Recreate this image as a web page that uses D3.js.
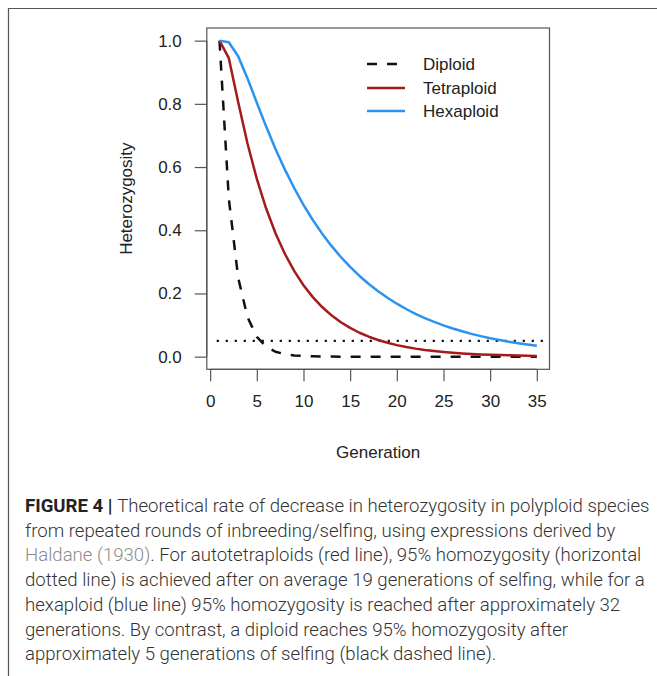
<!DOCTYPE html>
<html>
<head>
<meta charset="utf-8">
<script src="https://cdn.jsdelivr.net/npm/d3@7"></script>
<style>
html,body{margin:0;padding:0;background:#fff;}
svg{display:block;}
</style>
</head>
<body>
<svg id="chart" width="657" height="676"></svg>
<script>
// ---- data ----
const generations = [1,2,3,4,5,6,7,8,9,10,11,12,13,14,15,16,17,18,19,20,21,22,23,24,25,26,27,28,29,30,31,32,33,34,35];
const diploid = [1,0.5,0.25,0.125,0.0625,0.0313,0.0156,0.0078,0.0039,0.002,0.001,0.0005,0.0002,0.0001,0.0001,0,0,0,0,0,0,0,0,0,0,0,0,0,0,0,0,0,0,0,0];
const tetraploid = [1,0.9444,0.8056,0.6744,0.5625,0.4688,0.3907,0.3256,0.2714,0.2261,0.1884,0.157,0.1308,0.109,0.0909,0.0757,0.0631,0.0526,0.0438,0.0365,0.0304,0.0254,0.0211,0.0176,0.0147,0.0122,0.0102,0.0085,0.0071,0.0059,0.0049,0.0041,0.0034,0.0028,0.0024];
const hexaploid = [1,0.995,0.9507,0.8805,0.8035,0.728,0.6573,0.5925,0.5337,0.4805,0.4325,0.3893,0.3504,0.3153,0.2838,0.2554,0.2299,0.2069,0.1862,0.1676,0.1508,0.1357,0.1222,0.11,0.099,0.0891,0.0802,0.0721,0.0649,0.0584,0.0526,0.0473,0.0426,0.0383,0.0345];
const threshold = 0.05;
const thresholdExtent = [0.7, 35.7];
const xTicks = [0,5,10,15,20,25,30,35];
const yTicks = [0,0.2,0.4,0.6,0.8,1.0];
const seriesNames = ["Diploid","Tetraploid","Hexaploid"];
const captionLines = [
  [{t:"FIGURE 4 | ",b:true},{t:"Theoretical rate of decrease in heterozygosity in polyploid species"}],
  [{t:"from repeated rounds of inbreeding/selfing, using expressions derived by"}],
  [{t:"Haldane (1930)",g:true},{t:". For autotetraploids (red line), 95% homozygosity (horizontal"}],
  [{t:"dotted line) is achieved after on average 19 generations of selfing, while for a"}],
  [{t:"hexaploid (blue line) 95% homozygosity is reached after approximately 32"}],
  [{t:"generations. By contrast, a diploid reaches 95% homozygosity after"}],
  [{t:"approximately 5 generations of selfing (black dashed line)."}]
];

// ---- drawing ----
const svg = d3.select("#chart");
const font = "'Liberation Sans', Arial, Helvetica, sans-serif";
const box = {l:206.8, r:549.5, t:28, b:369.3};

const x = d3.scaleLinear().domain([-0.36, 36.36]).range([box.l, box.r]);
const y = d3.scaleLinear().domain([-0.04, 1.04]).range([box.b, box.t]);

// outer frame (top & left only)
svg.append("path").attr("d","M8.5,676 L8.5,8.5 L657,8.5")
  .attr("fill","none").attr("stroke","#555").attr("stroke-width",1.2);

// plot box
svg.append("rect").attr("x",box.l).attr("y",box.t)
  .attr("width",box.r-box.l).attr("height",box.b-box.t)
  .attr("fill","none").attr("stroke","#555").attr("stroke-width",1.2);

// axes
const xAxis = d3.axisBottom(x).tickValues(xTicks).tickFormat(d3.format("d")).tickSize(12).tickPadding(14);
const gx = svg.append("g").attr("transform",`translate(0,${box.b})`).call(xAxis);
const yAxis = d3.axisLeft(y).tickValues(yTicks).tickFormat(d3.format(".1f")).tickSize(12).tickPadding(13);
const gy = svg.append("g").attr("transform",`translate(${box.l},0)`).call(yAxis);
[gx,gy].forEach(g=>{
  g.select(".domain").attr("stroke","#555").attr("stroke-width",1.2);
  g.selectAll(".tick line").attr("stroke","#555").attr("stroke-width",1.2);
  g.selectAll(".tick text").attr("font-family",font).attr("font-size",17).attr("fill","#222");
});
gx.select(".domain").attr("d",`M${x(0)},0H${x(35)}`);
gy.select(".domain").attr("d",`M0,${y(0)}V${y(1)}`);

// axis titles
svg.append("text").attr("x",x(18)).attr("y",458).attr("text-anchor","middle")
  .attr("font-family",font).attr("font-size",17).attr("fill","#222").text("Generation");
svg.append("text").attr("transform",`translate(132,${(box.t+box.b)/2}) rotate(-90)`)
  .attr("text-anchor","middle").attr("font-family",font).attr("font-size",17).attr("fill","#222")
  .text("Heterozygosity");

// threshold dotted line
svg.append("line").attr("x1",x(thresholdExtent[0])).attr("x2",x(thresholdExtent[1]))
  .attr("y1",y(threshold)).attr("y2",y(threshold))
  .attr("stroke","#111").attr("stroke-width",2.2).attr("stroke-dasharray","2.2,6.8");

const line = d3.line().x((d,i)=>x(generations[i])).y(d=>y(d));
const styles = [
  {data:diploid,color:"#111",dash:"10,10"},
  {data:tetraploid,color:"#a31b1b",dash:null},
  {data:hexaploid,color:"#2b93ef",dash:null}
];
styles.forEach(s=>{
  svg.append("path").datum(s.data).attr("d",line).attr("fill","none")
    .attr("stroke",s.color).attr("stroke-width",2.5)
    .attr("stroke-dasharray",s.dash).attr("stroke-linejoin","round");
});

// legend
const legY = [64,88,111];
seriesNames.forEach((n,i)=>{
  svg.append("line").attr("x1",367).attr("x2",405).attr("y1",legY[i]).attr("y2",legY[i])
    .attr("stroke",styles[i].color).attr("stroke-width",2.5).attr("stroke-dasharray",styles[i].dash);
  svg.append("text").attr("x",423).attr("y",legY[i]+6).attr("font-family",font)
    .attr("font-size",17).attr("fill","#222").text(n);
});

// caption: uniform font size so that the first line spans the reference width
const capX = 25, capY0 = 512, capStep = 24.7, capFirstEnd = 650;
const capFont = "Roboto, 'Liberation Sans', Arial, sans-serif";
const texts = captionLines.map((segs,i)=>{
  const t = svg.append("text").attr("x",capX).attr("y",capY0+i*capStep)
    .attr("font-family",capFont).attr("font-size",16).attr("font-weight",300).attr("fill","#333");
  segs.forEach(s=>{
    const ts = t.append("tspan").text(s.t);
    if(s.b) ts.attr("font-weight","bold").attr("fill","#222");
    if(s.g) ts.attr("fill","#8c8c8c");
  });
  return t;
});
const w1 = texts[0].node().getComputedTextLength();
const fs = 16*(capFirstEnd-capX)/w1;
texts.forEach(t=>t.attr("font-size",fs));
</script>
</body>
</html>
